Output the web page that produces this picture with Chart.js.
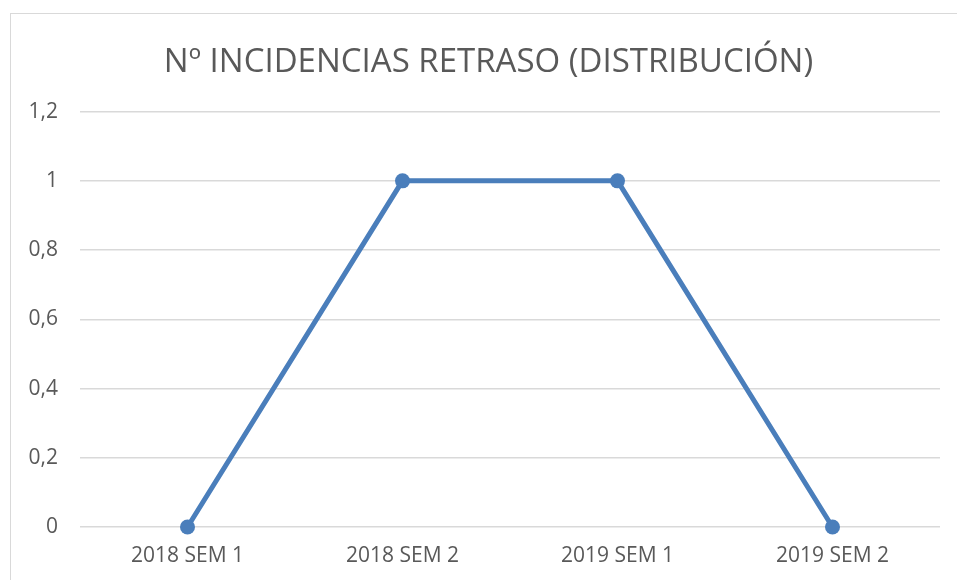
<!DOCTYPE html>
<html>
<head>
<meta charset="utf-8">
<script src="https://cdn.jsdelivr.net/npm/chart.js@4.4.1/dist/chart.umd.min.js"></script>
<style>
  html, body { margin: 0; padding: 0; background: #fff; overflow: hidden; }
  #frame { position: absolute; left: 10px; top: 13px; width: 1000px; height: 1000px; border: 1px solid #d9d9d9; }
  #wrap { position: absolute; left: 0; top: 0; width: 957px; height: 580px; }
</style>
</head>
<body>
<div id="frame"></div>
<div id="wrap"><canvas id="lineChart" width="957" height="580"></canvas></div>
<script>
// ---------------- data ----------------
const categories = ['2018 SEM 1', '2018 SEM 2', '2019 SEM 1', '2019 SEM 2'];
const incidencias = [0, 1, 1, 0];
const yTicks = [0, 0.2, 0.4, 0.6, 0.8, 1, 1.2];

const chartTitle = 'Nº INCIDENCIAS RETRASO (DISTRIBUCIÓN)';
const textGrey = '#595959';
const lineBlue = '#4a7ebb';

const ctx = document.getElementById('lineChart').getContext('2d');

// nudge the title so it is centred like the original (a bit right of canvas centre)
const shiftTitle = {
  id: 'shiftTitle',
  afterLayout(chart) {
    if (chart.titleBlock) chart.titleBlock.left = 37;
  }
};

const myChart = new Chart(ctx, {
  type: 'line',
  data: {
    labels: categories,
    datasets: [{
      data: incidencias,
      borderColor: lineBlue,
      backgroundColor: lineBlue,
      borderWidth: 5,
      pointRadius: 7.5,
      pointHoverRadius: 7.5,
      pointBorderWidth: 0,
      tension: 0,
      clip: false
    }]
  },
  options: {
    responsive: false,
    animation: false,
    layout: { padding: { left: 0, right: 17, top: 0, bottom: 0 } },
    plugins: {
      legend: { display: false },
      tooltip: { enabled: false },
      title: {
        display: true,
        text: chartTitle,
        color: textGrey,
        font: { family: 'Open Sans', size: 33, weight: 'normal' },
        padding: { top: 43, bottom: 29 }
      }
    },
    scales: {
      x: {
        offset: true,
        grid: { display: false, drawTicks: false },
        border: { display: false },
        ticks: {
          color: textGrey,
          font: { family: 'Open Sans', size: 21 },
          padding: 16,
          maxRotation: 0
        },
        afterFit: (scale) => { scale.height = 53; }
      },
      y: {
        min: 0,
        max: 1.2,
        afterBuildTicks: (scale) => { scale.ticks = yTicks.map(v => ({ value: v })); },
        grid: { color: '#d9d9d9', lineWidth: 1.5, drawTicks: false },
        border: { display: false },
        ticks: {
          color: textGrey,
          font: { family: 'Open Sans', size: 21 },
          padding: 22,
          callback: (v) => String(Math.round(v * 10) / 10).replace('.', ',')
        },
        afterFit: (scale) => { scale.width = 80; }
      }
    }
  },
  plugins: [shiftTitle]
});
</script>
</body>
</html>
